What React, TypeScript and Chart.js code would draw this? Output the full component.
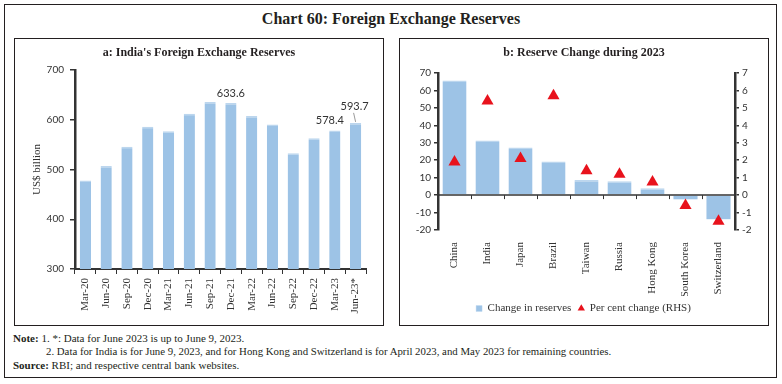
import React, { useEffect, useRef } from 'react';
import { Chart, registerables } from 'chart.js';

Chart.register(...registerables);

// ---------- Panel a data ----------
const periods = ['Mar-20', 'Jun-20', 'Sep-20', 'Dec-20', 'Mar-21', 'Jun-21', 'Sep-21', 'Dec-21', 'Mar-22', 'Jun-22', 'Sep-22', 'Dec-22', 'Mar-23', 'Jun-23*'];
const reserves = [477.8, 506.8, 545.6, 586.1, 577.0, 611.9, 635.5, 633.6, 607.3, 590.6, 532.7, 562.9, 578.4, 593.7];
const labelledPeriods = [7, 12, 13];
const reserveMin = 300;
const reserveMax = 700;
const reserveStep = 100;

// ---------- Panel b data ----------
const countries = ['China', 'India', 'Japan', 'Brazil', 'Taiwan', 'Russia', 'Hong Kong', 'South Korea', 'Switzerland'];
const changeInReserves = [65.7, 31.3, 27.3, 19.3, 8.6, 8.0, 4.0, -2.4, -13.8];
const perCentChange = [1.9, 5.4, 2.1, 5.7, 1.4, 1.2, 0.75, -0.6, -1.5];
const changeMin = -20;
const changeMax = 70;
const changeStep = 10;
const pctMin = -2;
const pctMax = 7;
const pctStep = 1;

const BAR = '#9dc3e6';
const BAR_CAP = '#bcd6ee';
const RED = '#e8121c';
const AXIS = '#333333';
const TEXT = '#333333';
const SERIF = '"Liberation Serif", "DejaVu Serif", serif';
const NUM = 'Lato, "Liberation Sans", sans-serif';

const valueLabelPlugin = {
  id: 'valueLabels',
  afterDatasetsDraw(chart: any) {
    const ctx = chart.ctx;
    const meta = chart.getDatasetMeta(0);
    ctx.save();
    ctx.font = `11px ${NUM}`;
    ctx.fillStyle = TEXT;
    ctx.textAlign = 'center';
    ctx.textBaseline = 'middle';
    labelledPeriods.forEach((i) => {
      const bar = meta.data[i];
      const text = reserves[i].toFixed(1);
      let x = bar.x;
      let y = bar.y - 10;
      if (i === 12) x -= 5;
      if (i === 13) {
        x -= 1;
        y = bar.y - 16;
        ctx.strokeStyle = '#9a9a9a';
        ctx.lineWidth = 1;
        ctx.beginPath();
        ctx.moveTo(bar.x - 2, bar.y - 10);
        ctx.lineTo(bar.x, bar.y - 1);
        ctx.stroke();
      }
      ctx.fillText(text, x, y);
    });
    ctx.restore();
  },
};

const zeroTicksPlugin = {
  id: 'zeroTicks',
  afterDatasetsDraw(chart: any) {
    const ctx = chart.ctx;
    const xs = chart.scales.x;
    const ys = chart.scales.y;
    const y0 = ys.getPixelForValue(0);
    const n = xs.ticks.length;
    const { left, right } = chart.chartArea;
    ctx.save();
    ctx.strokeStyle = AXIS;
    ctx.lineWidth = 1.5;
    ctx.beginPath();
    ctx.moveTo(left, y0);
    ctx.lineTo(right, y0);
    ctx.stroke();
    ctx.lineWidth = 1;
    for (let i = 0; i <= n; i++) {
      const px = i === 0 ? left : i === n ? right : (xs.getPixelForTick(i - 1) + xs.getPixelForTick(i)) / 2;
      ctx.beginPath();
      ctx.moveTo(Math.round(px) + 0.5, y0);
      ctx.lineTo(Math.round(px) + 0.5, y0 + 4);
      ctx.stroke();
    }
    ctx.restore();
  },
};

function LeftChart() {
  const ref = useRef<HTMLCanvasElement>(null);
  useEffect(() => {
    const chart = new Chart(ref.current as HTMLCanvasElement, {
      type: 'bar',
      data: {
        labels: periods,
        datasets: [
          {
            data: reserves,
            backgroundColor: BAR,
            borderColor: BAR_CAP,
            borderWidth: { top: 1.5, left: 0, right: 0, bottom: 0 },
            borderSkipped: 'start',
            categoryPercentage: 1,
            barPercentage: 0.54,
          },
        ],
      },
      options: {
        responsive: false,
        animation: false,
        layout: { padding: { top: 31, right: 16, left: 16, bottom: 0 } },
        plugins: { legend: { display: false }, tooltip: { enabled: false } },
        scales: {
          x: {
            grid: { display: true, drawOnChartArea: false, offset: true, tickLength: 5, tickColor: AXIS, lineWidth: 1 },
            border: { display: true, color: AXIS, width: 2 },
            ticks: { autoSkip: false, maxRotation: 90, minRotation: 90, color: TEXT, font: { family: SERIF, size: 11 }, padding: 4 },
            afterFit: (s: any) => {
              s.height = 55;
            },
          },
          y: {
            min: reserveMin,
            max: reserveMax,
            ticks: { stepSize: reserveStep, autoSkip: false, color: TEXT, font: { family: NUM, size: 10 }, padding: 6 },
            grid: { display: true, drawOnChartArea: false, tickLength: 5, tickColor: AXIS, lineWidth: 1.5 },
            border: { display: true, color: AXIS, width: 2.5 },
            title: { display: true, text: 'US$ billion', color: TEXT, font: { family: SERIF, size: 11 }, padding: { top: 0, bottom: 0 } },
            afterFit: (s: any) => {
              s.width = 44;
            },
          },
        },
      },
      plugins: [valueLabelPlugin],
    } as any);
    return () => chart.destroy();
  }, []);
  return <canvas ref={ref} width={367} height={285} style={{ width: 367, height: 285, display: 'block' }} />;
}

function RightChart() {
  const ref = useRef<HTMLCanvasElement>(null);
  useEffect(() => {
    const chart = new Chart(ref.current as HTMLCanvasElement, {
      type: 'bar',
      data: {
        labels: countries,
        datasets: [
          {
            type: 'line',
            label: 'Per cent change (RHS)',
            data: perCentChange,
            yAxisID: 'y1',
            showLine: false,
            pointStyle: 'triangle',
            pointRadius: 7,
            pointBackgroundColor: RED,
            pointBorderColor: RED,
            pointBorderWidth: 0,
            backgroundColor: RED,
            borderColor: RED,
            borderWidth: 0,
            order: 1,
          },
          {
            type: 'bar',
            label: 'Change in reserves',
            data: changeInReserves,
            yAxisID: 'y',
            backgroundColor: BAR,
            borderColor: BAR_CAP,
            borderWidth: { top: 1.5, left: 0, right: 0, bottom: 0 },
            borderSkipped: 'start',
            pointStyle: 'rect',
            categoryPercentage: 1,
            barPercentage: 0.73,
            order: 2,
          },
        ],
      },
      options: {
        responsive: false,
        animation: false,
        layout: { padding: { top: 34, right: 0, left: 0, bottom: 1 } },
        plugins: {
          tooltip: { enabled: false },
          legend: {
            display: true,
            position: 'bottom',
            labels: {
              usePointStyle: true,
              boxWidth: 6,
              boxHeight: 6,
              padding: 7,
              color: TEXT,
              font: { family: SERIF, size: 11 },
              sort: (a: any, b: any) => b.datasetIndex - a.datasetIndex,
            },
          },
        },
        scales: {
          x: {
            grid: { display: false },
            border: { display: false },
            ticks: { autoSkip: false, maxRotation: 90, minRotation: 90, color: TEXT, font: { family: SERIF, size: 11 }, padding: 4 },
            afterFit: (s: any) => {
              s.height = 66;
            },
          },
          y: {
            min: changeMin,
            max: changeMax,
            ticks: { stepSize: changeStep, autoSkip: false, color: TEXT, font: { family: NUM, size: 10 }, padding: 3 },
            grid: { display: true, drawOnChartArea: false, tickLength: 4, tickColor: AXIS, lineWidth: 1.5 },
            border: { display: true, color: AXIS, width: 2.5 },
            afterFit: (s: any) => {
              s.width = 38;
            },
          },
          y1: {
            position: 'right',
            min: pctMin,
            max: pctMax,
            ticks: { stepSize: pctStep, autoSkip: false, color: TEXT, font: { family: NUM, size: 10 }, padding: 3 },
            grid: { display: true, drawOnChartArea: false, tickLength: 4, tickColor: AXIS, lineWidth: 1.5 },
            border: { display: true, color: AXIS, width: 2.5 },
            afterFit: (s: any) => {
              s.width = 32;
            },
          },
        },
      },
      plugins: [zeroTicksPlugin],
    } as any);
    return () => chart.destroy();
  }, []);
  return <canvas ref={ref} width={367} height={286} style={{ width: 367, height: 286, display: 'block' }} />;
}

export default function App() {
  const frame = '1px solid #231f20';
  return (
    <div style={{ position: 'absolute', left: 0, top: 0, width: 782, height: 384, background: '#fff', fontFamily: SERIF, color: '#231f20' }}>
      <div style={{ position: 'absolute', left: 4, top: 4, width: 773, height: 374, border: frame, boxSizing: 'border-box' }} />
      <div style={{ position: 'absolute', left: 0, top: 10, width: 782, textAlign: 'center', fontSize: 16, fontWeight: 'bold', whiteSpace: 'nowrap' }}>
        Chart 60: Foreign Exchange Reserves
      </div>

      <div style={{ position: 'absolute', left: 14, top: 38, width: 370, height: 288, border: frame, boxSizing: 'border-box' }} />
      <div style={{ position: 'absolute', left: 15, top: 39 }}>
        <LeftChart />
      </div>
      <div style={{ position: 'absolute', left: 14, top: 45, width: 370, textAlign: 'center', fontSize: 12, fontWeight: 'bold', whiteSpace: 'nowrap' }}>
        a: India's Foreign Exchange Reserves
      </div>

      <div style={{ position: 'absolute', left: 399, top: 38, width: 370, height: 288, border: frame, boxSizing: 'border-box' }} />
      <div style={{ position: 'absolute', left: 400, top: 39 }}>
        <RightChart />
      </div>
      <div style={{ position: 'absolute', left: 399, top: 45, width: 370, textAlign: 'center', fontSize: 12, fontWeight: 'bold', whiteSpace: 'nowrap' }}>
        b: Reserve Change during 2023
      </div>

      <div style={{ position: 'absolute', left: 13, top: 332, fontSize: 11, whiteSpace: 'nowrap' }}>
        <b>Note:</b> 1. *: Data for June 2023 is up to June 9, 2023.
      </div>
      <div style={{ position: 'absolute', left: 46, top: 345, fontSize: 10.8, whiteSpace: 'nowrap' }}>
        2. Data for India is for June 9, 2023, and for Hong Kong and Switzerland is for April 2023, and May 2023 for remaining countries.
      </div>
      <div style={{ position: 'absolute', left: 13, top: 359, fontSize: 11, whiteSpace: 'nowrap' }}>
        <b>Source:</b> RBI; and respective central bank websites.
      </div>
    </div>
  );
}
